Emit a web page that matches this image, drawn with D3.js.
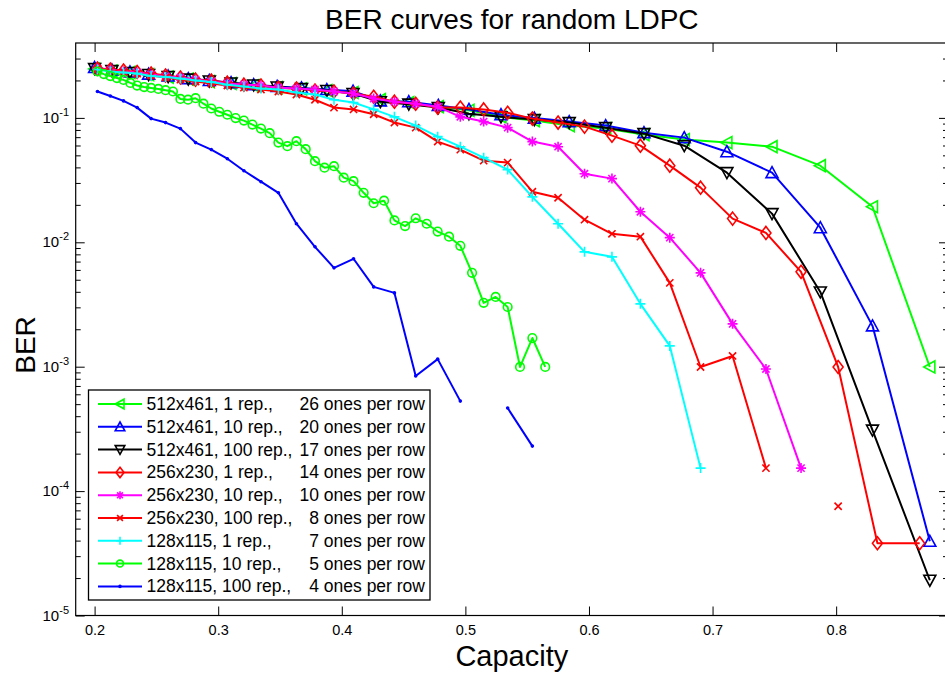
<!DOCTYPE html>
<html><head><meta charset="utf-8">
<script src="https://cdn.jsdelivr.net/npm/d3@7"></script>
<style>
body{margin:0;background:#fff;}
text{font-family:"Liberation Sans",Arial,Helvetica,sans-serif;fill:#000;}
</style>
</head><body>
<svg id="chart" width="945" height="673"></svg>
<script>
// ---------------- data ----------------
const capacity512 = [0.2000,0.2140,0.2286,0.2437,0.2595,0.2758,0.2928,0.3104,0.3287,0.3477,0.3674,0.3879,0.4091,0.4312,0.4542,0.4781,0.5029,0.5288,0.5558,0.5840,0.6135,0.6445,0.6771,0.7116,0.7481,0.7872,0.8294,0.8758];
const capacity256 = [0.2023,0.2127,0.2234,0.2344,0.2457,0.2574,0.2694,0.2817,0.2944,0.3074,0.3208,0.3346,0.3487,0.3633,0.3783,0.3937,0.4095,0.4258,0.4426,0.4598,0.4776,0.4959,0.5148,0.5342,0.5542,0.5750,0.5964,0.6186,0.6416,0.6654,0.6903,0.7162,0.7432,0.7716,0.8016,0.8334,0.8676];
const capacity128fine = [0.2023,0.2075,0.2127,0.2181,0.2234,0.2289,0.2344,0.2401,0.2457,0.2516,0.2574,0.2634,0.2694,0.2756,0.2817,0.2881,0.2944,0.3009,0.3074,0.3141,0.3208,0.3277,0.3346,0.3417,0.3487,0.3560,0.3633,0.3708,0.3783,0.3860,0.3937,0.4016,0.4095,0.4177,0.4258,0.4342,0.4426,0.4512,0.4598,0.4687,0.4776,0.4868,0.4959,0.5054,0.5148,0.5245,0.5342,0.5442,0.5542,0.5646];

const ber512_1rep   = [0.247,0.238,0.232,0.223,0.213,0.205,0.196,0.189,0.182,0.175,0.171,0.166,0.160,0.140,0.133,0.123,0.115,0.102,0.0951,0.0867,0.0820,0.0734,0.0669,0.0633,0.0587,0.0413,0.0193,0.000995];
const ber512_10rep  = [0.254,0.243,0.234,0.225,0.217,0.207,0.200,0.192,0.185,0.179,0.174,0.169,0.164,0.137,0.135,0.126,0.117,0.106,0.0996,0.0934,0.0867,0.0761,0.0694,0.0535,0.0363,0.0131,0.00213,0.0000395];
const ber512_100rep = [0.249,0.240,0.232,0.223,0.215,0.205,0.198,0.191,0.184,0.177,0.172,0.166,0.157,0.135,0.129,0.121,0.108,0.102,0.0969,0.0917,0.0835,0.0747,0.0598,0.0363,0.0170,0.00399,0.000309,0.0000192];
const ber256_1rep   = [0.249,0.245,0.240,0.234,0.227,0.219,0.211,0.203,0.200,0.192,0.185,0.182,0.175,0.172,0.166,0.163,0.157,0.148,0.135,0.130,0.121,0.121,0.117,0.110,0.0987,0.0917,0.0851,0.0720,0.0598,0.0413,0.0275,0.0155,0.0119,0.00579,0.000995,0.0000381,0.0000381];
const ber256_10rep  = [0.249,0.243,0.236,0.232,0.223,0.215,0.211,0.203,0.196,0.189,0.185,0.182,0.175,0.172,0.169,0.163,0.157,0.143,0.135,0.130,0.123,0.102,0.0934,0.0835,0.0645,0.0587,0.0356,0.0325,0.0176,0.0109,0.00568,0.00221,0.000958,0.000153];
const ber256_100rep = [0.249,0.240,0.234,0.227,0.219,0.211,0.203,0.196,0.189,0.182,0.175,0.169,0.163,0.154,0.140,0.121,0.117,0.107,0.0917,0.0835,0.0645,0.0556,0.0453,0.0437,0.0255,0.0228,0.0152,0.0117,0.0111,0.00472,0.000995,0.00122,0.000153,null,0.0000755];
const ber128_1rep   = [0.245,0.236,0.232,0.227,0.217,0.213,0.207,0.200,0.194,0.185,0.179,0.172,0.169,0.160,0.154,0.140,0.133,0.117,0.102,0.0867,0.0707,0.0587,0.0479,0.0384,0.0232,0.0141,0.00838,0.00764,0.00320,0.00147,0.000153];
const ber128_10rep  = [0.236,0.225,0.217,0.209,0.202,0.191,0.182,0.177,0.174,0.171,0.167,0.163,0.142,0.140,0.144,0.130,0.119,0.112,0.106,0.0996,0.0951,0.0883,0.0820,0.0754,0.0633,0.0593,0.0650,0.0561,0.0449,0.0398,0.0409,0.0331,0.0310,0.0250,0.0206,0.0216,0.0150,0.0135,0.0156,0.0141,0.0122,0.0111,0.00937,0.00568,0.00326,0.00364,0.00302,0.000995,0.00170,0.000995];
const ber128_100rep = [0.163,0.150,0.137,0.121,0.0987,0.0917,0.0820,0.0633,0.0556,0.0470,0.0376,0.0307,0.0250,0.0141,0.00920,0.00623,0.00737,0.00438,0.00392,0.000841,0.00115,0.000529,null,0.000465,0.000230];

const legendCode  = ["512x461, 1 rep.,","512x461, 10 rep.,","512x461, 100 rep.,","256x230, 1 rep.,","256x230, 10 rep.,","256x230, 100 rep.,","128x115, 1 rep.,","128x115, 10 rep.,","128x115, 100 rep.,"];
const legendOnes  = ["26 ones per row","20 ones per row","17 ones per row","14 ones per row","10 ones per row","8 ones per row","7 ones per row","5 ones per row","4 ones per row"];
const seriesColors  = ["#00ff00","#0000ff","#000000","#ff0000","#ff00ff","#ff0000","#00ffff","#00ff00","#0000ff"];
const seriesMarkers = ["triLeft","triUp","triDown","diamond","star","cross","plus","circle","dot"];

const xTicks = [0.2,0.3,0.4,0.5,0.6,0.7,0.8];
const yTickExps = [-5,-4,-3,-2,-1];
const titleText = "BER curves for random LDPC";
const xLabel = "Capacity";
const yLabel = "BER";

// ---------------- build ----------------
const seriesX = [capacity512,capacity512,capacity512,capacity256,capacity256,capacity256,capacity256,capacity128fine,capacity256];
const seriesY = [ber512_1rep,ber512_10rep,ber512_100rep,ber256_1rep,ber256_10rep,ber256_100rep,ber128_1rep,ber128_10rep,ber128_100rep];
const series = seriesY.map((ys,i)=>({
  color: seriesColors[i], marker: seriesMarkers[i],
  pts: ys.map((v,j)=>({c: seriesX[i][j], b: v}))
}));

const L=75.7, R=948, T=43, B=615.5;
const svg = d3.select("#chart");
const x = d3.scaleLinear().domain([0.1847,0.8905]).range([L,R]);
const y = d3.scaleLog().domain([1e-5,0.4]).range([B,T]);

svg.append("defs").append("clipPath").attr("id","clip")
  .append("rect").attr("x",L).attr("y",T).attr("width",R-L).attr("height",B-T);

// axes
const minorVals = [];
for (const e of [-5,-4,-3,-2,-1]) for (let m=2;m<=9;m++){ const v=m*Math.pow(10,e); if (v<0.4) minorVals.push(v); }
const majorVals = yTickExps.map(e=>Math.pow(10,e));

function styleAxis(g){ g.select(".domain").remove(); g.selectAll("line").attr("stroke","#000").attr("stroke-width",1); }

svg.append("g").attr("transform",`translate(0,${B})`)
  .call(d3.axisBottom(x).tickValues(xTicks).tickSize(-9).tickPadding(9).tickFormat(d3.format(".1f")))
  .call(styleAxis)
  .selectAll("text").attr("font-size",14.5).attr("font-family","Liberation Sans, Arial, sans-serif").attr("fill","#000");
svg.append("g").attr("transform",`translate(0,${T})`)
  .call(d3.axisTop(x).tickValues(xTicks).tickSize(-9).tickFormat(""))
  .call(styleAxis);
svg.append("g").attr("transform",`translate(${L},0)`)
  .call(d3.axisLeft(y).tickValues(majorVals).tickSize(-9).tickFormat("")).call(styleAxis);
svg.append("g").attr("transform",`translate(${L},0)`)
  .call(d3.axisLeft(y).tickValues(minorVals).tickSize(-5).tickFormat("")).call(styleAxis);
svg.append("g").attr("transform",`translate(${R},0)`)
  .call(d3.axisRight(y).tickValues(majorVals).tickSize(-9).tickFormat("")).call(styleAxis);
svg.append("g").attr("transform",`translate(${R},0)`)
  .call(d3.axisRight(y).tickValues(minorVals).tickSize(-5).tickFormat("")).call(styleAxis);

// y tick labels 10^e
yTickExps.forEach(e=>{
  const t = svg.append("text").attr("x",69).attr("y",y(Math.pow(10,e))+5)
    .attr("text-anchor","end").attr("font-size",15);
  t.append("tspan").text("10");
  t.append("tspan").attr("font-size",11).attr("dy",-7).text(String(e));
});

// frame
svg.append("rect").attr("x",L).attr("y",T).attr("width",R-L).attr("height",B-T)
  .attr("fill","none").attr("stroke","#000").attr("stroke-width",1.2);

// marker drawer
function drawMarker(g, type, cx, cy, color, s){
  s = s||1;
  if (type==="triLeft"){
    g.append("path").attr("d",`M${cx-6*s},${cy}L${cx+5*s},${cy-6*s}L${cx+5*s},${cy+6*s}Z`)
      .attr("fill","none").attr("stroke",color).attr("stroke-width",1.6);
  } else if (type==="triUp"){
    g.append("path").attr("d",`M${cx},${cy-6*s}L${cx+6*s},${cy+5*s}L${cx-6*s},${cy+5*s}Z`)
      .attr("fill","none").attr("stroke",color).attr("stroke-width",1.6);
  } else if (type==="triDown"){
    g.append("path").attr("d",`M${cx},${cy+6*s}L${cx+6*s},${cy-5*s}L${cx-6*s},${cy-5*s}Z`)
      .attr("fill","none").attr("stroke",color).attr("stroke-width",1.6);
  } else if (type==="diamond"){
    g.append("path").attr("d",`M${cx},${cy-6.5*s}L${cx+5*s},${cy}L${cx},${cy+6.5*s}L${cx-5*s},${cy}Z`)
      .attr("fill","none").attr("stroke",color).attr("stroke-width",1.6);
  } else if (type==="star"){
    const r=5*s, d=3.6*s;
    g.append("path").attr("d",`M${cx-r},${cy}L${cx+r},${cy}M${cx},${cy-r}L${cx},${cy+r}M${cx-d},${cy-d}L${cx+d},${cy+d}M${cx-d},${cy+d}L${cx+d},${cy-d}`)
      .attr("stroke",color).attr("stroke-width",1.6);
  } else if (type==="cross"){
    const d=3.6*s;
    g.append("path").attr("d",`M${cx-d},${cy-d}L${cx+d},${cy+d}M${cx-d},${cy+d}L${cx+d},${cy-d}`)
      .attr("stroke",color).attr("stroke-width",1.6);
  } else if (type==="plus"){
    const r=5*s;
    g.append("path").attr("d",`M${cx-r},${cy}L${cx+r},${cy}M${cx},${cy-r}L${cx},${cy+r}`)
      .attr("stroke",color).attr("stroke-width",1.6);
  } else if (type==="circle"){
    g.append("circle").attr("cx",cx).attr("cy",cy).attr("r",4.3*s)
      .attr("fill","none").attr("stroke",color).attr("stroke-width",1.6);
  } else if (type==="dot"){
    g.append("circle").attr("cx",cx).attr("cy",cy).attr("r",1.8)
      .attr("fill",color);
  }
}

const plot = svg.append("g").attr("clip-path","url(#clip)");
const line = d3.line().defined(d=>d.b!==null).x(d=>x(d.c)).y(d=>y(d.b));
series.forEach(s=>{
  const g = plot.append("g");
  g.append("path").datum(s.pts).attr("d",line).attr("fill","none")
    .attr("stroke",s.color).attr("stroke-width",2).attr("stroke-linejoin","round");
  s.pts.filter(d=>d.b!==null).forEach(d=>drawMarker(g,s.marker,x(d.c),y(d.b),s.color,1));
});

// legend
const lg = svg.append("g");
lg.append("rect").attr("x",88.5).attr("y",390).attr("width",341.5).attr("height",210)
  .attr("fill","#fff").attr("stroke","#000").attr("stroke-width",1.3);
series.forEach((s,i)=>{
  const ry = 404 + i*22.8;
  lg.append("line").attr("x1",98).attr("x2",142).attr("y1",ry).attr("y2",ry)
    .attr("stroke",s.color).attr("stroke-width",2);
  drawMarker(lg,s.marker,120,ry,s.color,0.8);
  lg.append("text").attr("x",146.5).attr("y",ry+6).attr("font-size",17.5).text(legendCode[i]);
  lg.append("text").attr("x",425).attr("y",ry+6).attr("font-size",17.5).attr("text-anchor","end").text(legendOnes[i]);
});

// titles
svg.append("text").attr("x",(L+R)/2).attr("y",29).attr("text-anchor","middle").attr("font-size",28).text(titleText);
svg.append("text").attr("x",(L+R)/2).attr("y",666).attr("text-anchor","middle").attr("font-size",29).text(xLabel);
svg.append("text").attr("transform","translate(35,345) rotate(-90)").attr("text-anchor","middle").attr("font-size",28).text(yLabel);
</script>
</body></html>
